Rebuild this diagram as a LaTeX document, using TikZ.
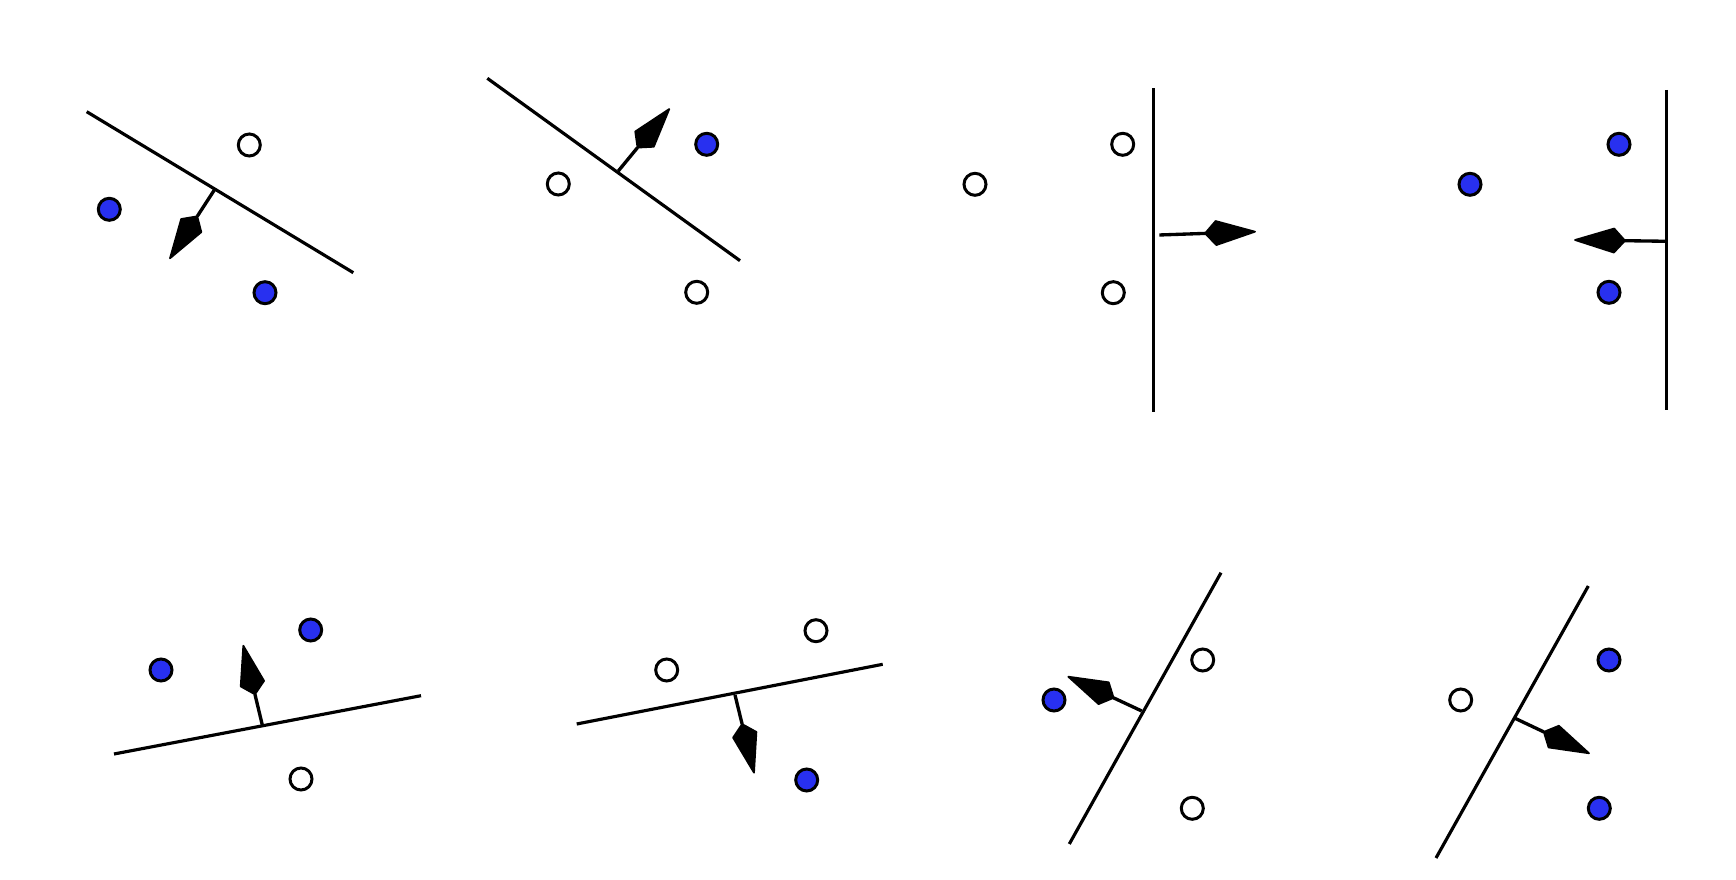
\documentclass[tikz,border=0pt]{standalone}
\usetikzlibrary{calc}
\definecolor{dotblue}{RGB}{40,48,240}
\tikzset{
  sep/.style={line width=0.9pt, black},
  shaft/.style={line width=0.95pt, black},
  kite/.style={fill=black, draw=black, line width=0.5pt, line join=round},
  opendot/.style={circle, draw=black, fill=white, line width=0.85pt, minimum size=0.22cm, inner sep=0pt},
  bluedot/.style={circle, draw=black, fill=dotblue, line width=0.85pt, minimum size=0.22cm, inner sep=0pt},
}
\newcommand{\kitearrow}[3]{%
  \coordinate (#1b) at ($(#3)!0.50cm!(#2)$);
  \coordinate (#1m) at ($(#3)!0.39cm!(#2)$);
  \coordinate (#1l) at ($(#1m)!0.12cm!90:(#3)$);
  \coordinate (#1r) at ($(#1m)!0.12cm!-90:(#3)$);
  \draw[shaft] (#2) -- (#1b);
  \filldraw[kite] (#1b) -- (#1l) -- (#3) -- (#1r) -- cycle;
}
\begin{document}
\begin{tikzpicture}[x=0.01cm, y=-0.01cm]
\useasboundingbox (0,0) rectangle (1736,880);
% Panel 1
\coordinate (l1a) at (86.7,111.7); \coordinate (l1b) at (353.3,272.7);
\draw[sep] (l1a) -- (l1b);
\node[opendot] (p1o1) at (249.3,145) {};
\node[bluedot] (p1b1) at (109.3,209.3) {};
\node[bluedot] (p1b2) at (265,292.7) {};
\coordinate (f1) at (215,189); \coordinate (t1) at (170,258.3);
\kitearrow{a1}{f1}{t1}
% Panel 2
\coordinate (l2a) at (487.3,78.3); \coordinate (l2b) at (740,260.7);
\draw[sep] (l2a) -- (l2b);
\node[opendot] (p2o1) at (558.3,184) {};
\node[opendot] (p2o2) at (696.7,292.3) {};
\node[bluedot] (p2b1) at (706.7,144.3) {};
\coordinate (f2) at (618.3,171); \coordinate (t2) at (669.3,109);
\kitearrow{a2}{f2}{t2}
% Panel 3
\coordinate (l3a) at (1153.3,88.3); \coordinate (l3b) at (1153.3,411.7);
\draw[sep] (l3a) -- (l3b);
\node[opendot] (p3o1) at (975,184.3) {};
\node[opendot] (p3o2) at (1122.7,144.3) {};
\node[opendot] (p3o3) at (1113.3,292.7) {};
\coordinate (f3) at (1159.3,235); \coordinate (t3) at (1255,231.7);
\kitearrow{a3}{f3}{t3}
% Panel 4
\coordinate (l4a) at (1666.7,90); \coordinate (l4b) at (1666.7,410);
\draw[sep] (l4a) -- (l4b);
\node[bluedot] (p4b1) at (1619,144.3) {};
\node[bluedot] (p4b2) at (1470,184.3) {};
\node[bluedot] (p4b3) at (1609,292.3) {};
\coordinate (f4) at (1666.7,241.3); \coordinate (t4) at (1575,240);
\kitearrow{a4}{f4}{t4}
% Panel 5
\coordinate (l5a) at (114,754); \coordinate (l5b) at (421,695.7);
\draw[sep] (l5a) -- (l5b);
\node[bluedot] (p5b1) at (161,670) {};
\node[bluedot] (p5b2) at (310.7,630) {};
\node[opendot] (p5o1) at (301,779) {};
\coordinate (f5) at (262.3,725); \coordinate (t5) at (243.3,645.7);
\kitearrow{a5}{f5}{t5}
% Panel 6
\coordinate (l6a) at (576.7,724); \coordinate (l6b) at (882.7,664.3);
\draw[sep] (l6a) -- (l6b);
\node[opendot] (p6o1) at (666.7,670) {};
\node[opendot] (p6o2) at (816,630.7) {};
\node[bluedot] (p6b1) at (806.7,780) {};
\coordinate (f6) at (735,695); \coordinate (t6) at (754,772.7);
\kitearrow{a6}{f6}{t6}
% Panel 7
\coordinate (l7a) at (1069.3,844); \coordinate (l7b) at (1221,572.7);
\draw[sep] (l7a) -- (l7b);
\node[opendot] (p7o1) at (1202.7,660) {};
\node[opendot] (p7o2) at (1192.3,808.3) {};
\node[bluedot] (p7b1) at (1054,700) {};
\coordinate (f7) at (1141.7,711); \coordinate (t7) at (1068.3,676.7);
\kitearrow{a7}{f7}{t7}
% Panel 8
\coordinate (l8a) at (1436,858); \coordinate (l8b) at (1588.3,586);
\draw[sep] (l8a) -- (l8b);
\node[opendot] (p8o1) at (1460.7,700) {};
\node[bluedot] (p8b1) at (1609,660) {};
\node[bluedot] (p8b2) at (1599.3,808.3) {};
\coordinate (f8) at (1515,718.3); \coordinate (t8) at (1589,753.3);
\kitearrow{a8}{f8}{t8}
\end{tikzpicture}
\end{document}
